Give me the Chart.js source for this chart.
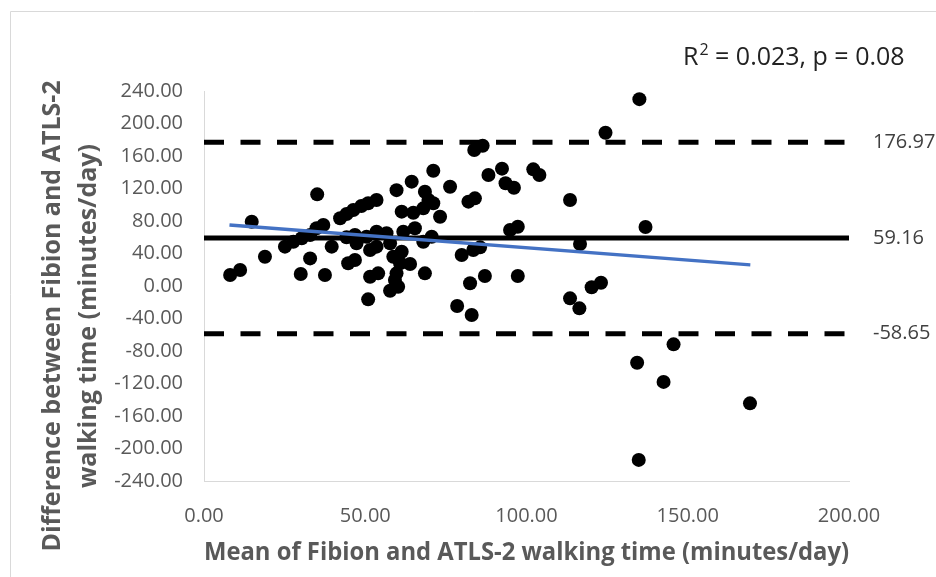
<!DOCTYPE html>
<html>
<head>
<meta charset="utf-8">
<script src="https://cdn.jsdelivr.net/npm/chart.js@4.4.0/dist/chart.umd.min.js"></script>
<style>
  html, body { margin: 0; padding: 0; background: #fff; }
</style>
</head>
<body>
<canvas id="grafico" width="936" height="577"></canvas>
<script>
// Media de Fibion y ATLS-2 (x) y diferencia entre ambos (y), minutos/dia
var mediaX = [
  8.1, 11.2, 14.8, 18.9, 25.1, 27.7, 30.3, 32.9, 34.9, 37.0,
  39.6, 32.9, 30.0, 37.5, 35.1, 42.2, 44.2, 46.3, 48.8, 50.9,
  46.8, 47.3, 44.7, 46.8, 50.4, 50.9, 44.2, 71.1, 64.4, 59.7,
  53.5, 76.3, 68.5, 69.6, 71.1, 68.0, 61.3, 64.9, 73.2, 82.0,
  84.0, 88.2, 53.5, 56.6, 61.8, 65.4, 68.0, 70.6, 51.5, 53.5,
  57.7, 61.3, 58.7, 60.8, 63.9, 54.0, 51.5, 59.7, 59.2, 60.2,
  57.7, 68.5, 79.9, 83.5, 85.6, 82.5, 87.1, 78.5, 83.0, 83.8,
  86.4, 92.4, 93.5, 96.1, 94.9, 97.3, 97.3, 102.1, 104.0, 113.5,
  116.6, 113.5, 116.4, 120.2, 123.1, 124.5, 135.0, 136.9, 134.3, 142.5,
  145.6, 169.3, 134.8
];
var diferenciaY = [
  13.5, 19.7, 79.0, 36.0, 48.4, 54.5, 58.7, 62.8, 71.0, 75.0,
  48.4, 34.0, 14.8, 13.5, 112.8, 83.3, 88.6, 93.5, 98.5, 101.8,
  62.8, 52.5, 28.0, 32.0, 60.7, -16.4, 60.0, 141.9, 128.4, 118.0,
  105.8, 122.2, 116.0, 105.8, 101.8, 95.6, 91.5, 90.2, 85.3, 103.8,
  107.9, 136.6, 66.8, 64.9, 66.8, 71.0, 54.5, 60.7, 44.3, 48.4,
  52.5, 42.2, 36.0, 28.0, 27.0, 15.6, 11.4, 15.6, 7.4, -0.9,
  -5.8, 15.6, 38.2, 44.3, 47.6, 3.3, 12.3, -24.6, -35.7, 167.4,
  172.7, 144.4, 126.4, 121.0, 68.9, 73.0, 12.3, 143.6, 136.6, 105.8,
  51.7, -15.2, -27.5, -1.6, 4.0, 188.7, 230.0, 72.6, -94.4, -118.0,
  -71.8, -144.4, -214.0
];

// sesgo medio y limites de acuerdo
var mediaDif = 59.16;
var limiteSup = 176.97;
var limiteInf = -58.65;
var rangoX = [0, 200];

// recta de regresion (extremos)
var tendenciaX = [7.9, 169.4];
var tendenciaY = [75.2, 26.0];

var ticksX = [0, 50, 100, 150, 200];
var ticksY = [-240, -200, -160, -120, -80, -40, 0, 40, 80, 120, 160, 200, 240];

var tituloY = ["Difference between Fibion and ATLS-2", "walking time (minutes/day)"];

var fuente = "'Open Sans', 'Liberation Sans', sans-serif";
var gris = "#595959";

function lineaHorizontal(valor) {
  return rangoX.map((x) => ({ x: x, y: valor }));
}

// Borde, titulo del eje Y y texto del R2
const textoExtra = {
  id: "textoExtra",
  beforeDraw(chart) {
    const ctx = chart.ctx;
    ctx.save();
    ctx.strokeStyle = "#d9d9d9";
    ctx.lineWidth = 1;
    ctx.beginPath();
    ctx.moveTo(10.5, 577);
    ctx.lineTo(10.5, 11.5);
    ctx.lineTo(936, 11.5);
    ctx.stroke();
    ctx.restore();
  },
  afterDraw(chart) {
    const ctx = chart.ctx;
    ctx.save();
    // titulo del eje Y en dos lineas, rotado
    ctx.fillStyle = gris;
    ctx.font = "bold 25px " + fuente;
    ctx.textAlign = "center";
    ctx.textBaseline = "middle";
    tituloY.forEach((linea, i) => {
      ctx.save();
      ctx.translate(53 + i * 36, 316);
      ctx.rotate(-Math.PI / 2);
      ctx.fillText(linea, 0, 0);
      ctx.restore();
    });

    // R2
    ctx.fillStyle = "#222222";
    ctx.textBaseline = "alphabetic";
    ctx.textAlign = "left";
    let x = 683;
    const y = 65;
    ctx.font = "25px " + fuente;
    ctx.fillText("R", x, y);
    x += ctx.measureText("R").width;
    ctx.font = "16px " + fuente;
    ctx.fillText("2", x + 1, y - 10);
    x += ctx.measureText("2").width + 1;
    ctx.font = "25px " + fuente;
    ctx.fillText(" = 0.023, p = 0.08", x, y);
    ctx.restore();
  },
};

var puntos = mediaX.map((x, i) => ({ x: x, y: diferenciaY[i] }));

new Chart(document.getElementById("grafico"), {
  type: "scatter",
  data: {
    datasets: [
      {
        type: "line",
        data: tendenciaX.map((x, i) => ({ x: x, y: tendenciaY[i] })),
        borderColor: "#4472C4",
        borderWidth: 3.5,
        pointRadius: 0,
        yAxisID: "y",
      },
      {
        data: puntos,
        backgroundColor: "#000000",
        borderWidth: 0,
        pointRadius: 7,
        yAxisID: "y",
      },
      {
        type: "line",
        data: lineaHorizontal(mediaDif),
        borderColor: "#000000",
        borderWidth: 5,
        pointRadius: 0,
        yAxisID: "y",
      },
      {
        type: "line",
        data: lineaHorizontal(limiteSup),
        borderColor: "#000000",
        borderWidth: 5,
        borderDash: [20, 16.5],
        borderCapStyle: "butt",
        pointRadius: 0,
        yAxisID: "y",
      },
      {
        type: "line",
        data: lineaHorizontal(limiteInf),
        borderColor: "#000000",
        borderWidth: 5,
        borderDash: [20, 16.5],
        borderCapStyle: "butt",
        pointRadius: 0,
        yAxisID: "y",
      },
    ],
  },
  options: {
    responsive: false,
    animation: false,
    layout: { padding: { top: 91, left: 0, right: 0, bottom: 0 } },
    plugins: {
      legend: { display: false },
      tooltip: { enabled: false },
    },
    scales: {
      x: {
        type: "linear",
        min: 0,
        max: 200,
        afterBuildTicks: (scale) => {
          scale.ticks = ticksX.map((v) => ({ value: v }));
        },
        afterFit: (scale) => {
          scale.height = 96;
        },
        grid: { display: false, drawTicks: false },
        border: { display: true, color: "#d9d9d9", width: 1 },
        ticks: {
          color: gris,
          padding: 23,
          font: { family: fuente, size: 20 },
          callback: (v) => Number(v).toFixed(2),
        },
        title: {
          display: true,
          text: "Mean of Fibion and ATLS-2 walking time (minutes/day)",
          color: gris,
          font: { family: fuente, size: 24.5, weight: "bold" },
          padding: { top: 0, bottom: 9 },
        },
      },
      y: {
        position: "left",
        min: -240,
        max: 240,
        afterBuildTicks: (scale) => {
          scale.ticks = ticksY.map((v) => ({ value: v }));
        },
        afterFit: (scale) => {
          scale.width = 204;
        },
        grid: { display: false, drawTicks: false },
        border: { display: true, color: "#d9d9d9", width: 1 },
        ticks: {
          color: gris,
          padding: 21,
          font: { family: fuente, size: 20 },
          callback: (v) => Number(v).toFixed(2),
        },
      },
      y2: {
        position: "right",
        min: -240,
        max: 240,
        afterBuildTicks: (scale) => {
          scale.ticks = [limiteInf, mediaDif, limiteSup].map((v) => ({ value: v }));
        },
        afterFit: (scale) => {
          scale.width = 87;
        },
        grid: { display: false, drawTicks: false },
        border: { display: false },
        ticks: {
          color: "#404040",
          padding: 24,
          font: { family: fuente, size: 20 },
          callback: (v) => Number(v).toFixed(2),
        },
      },
    },
  },
  plugins: [textoExtra],
});
</script>
</body>
</html>
